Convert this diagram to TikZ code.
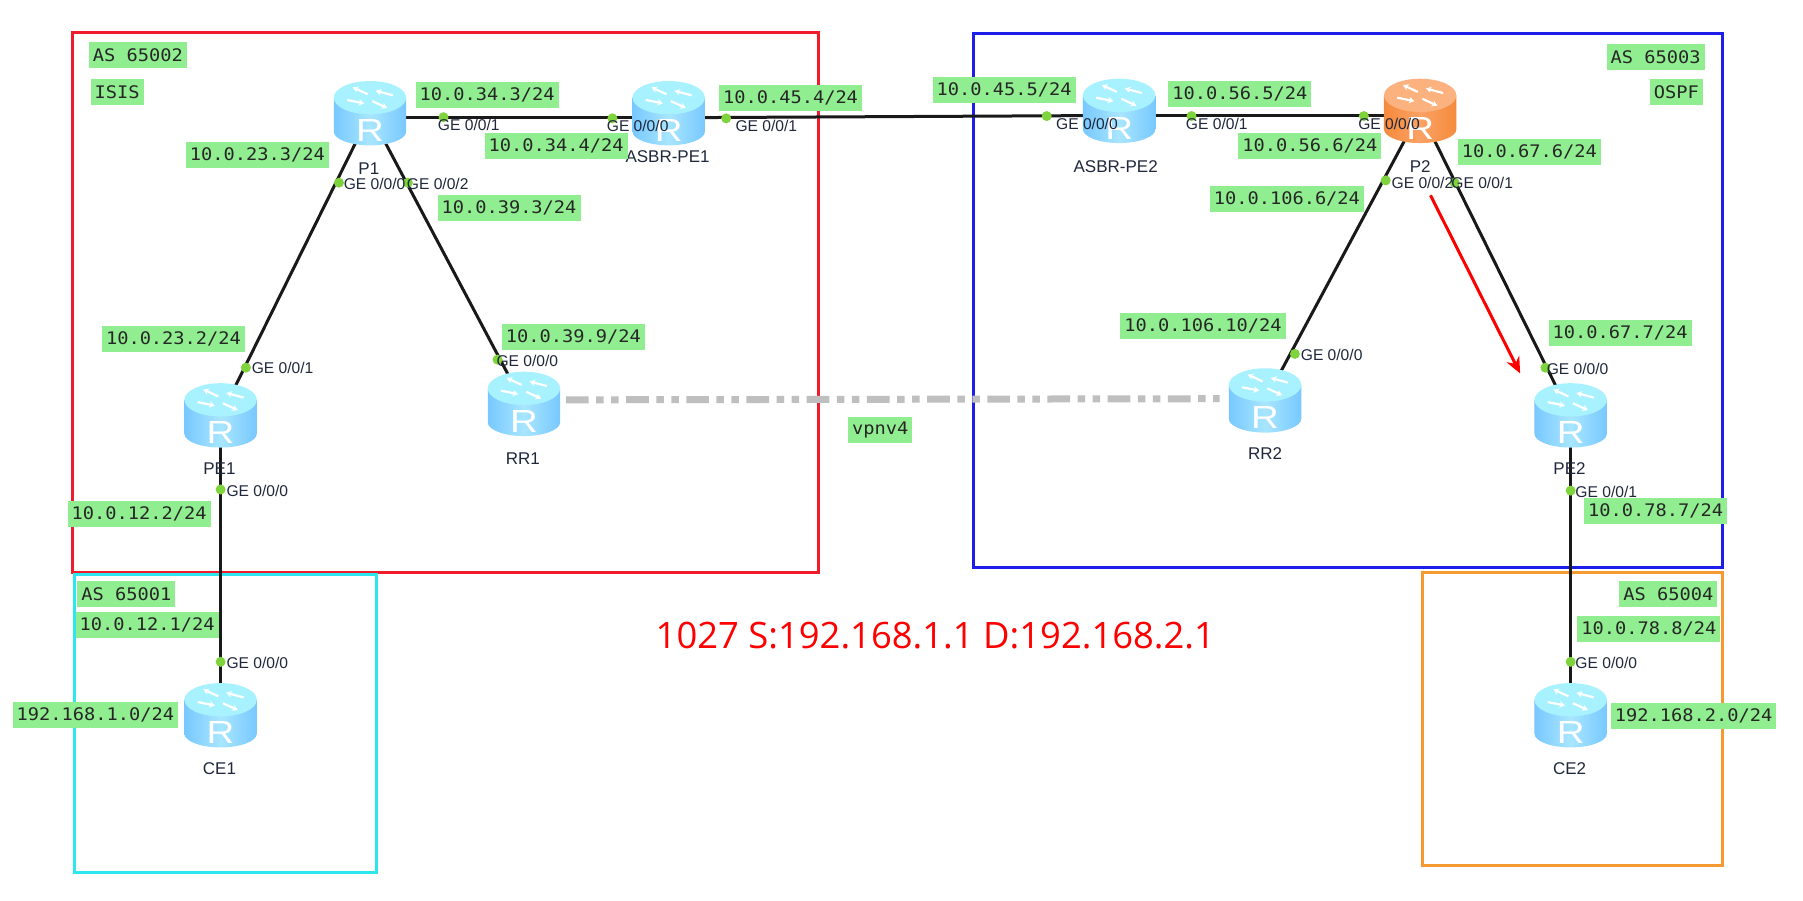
\documentclass[tikz,border=0pt]{standalone}
\usepackage{fontspec}
\setmainfont{Liberation Sans}
\newfontfamily\labmono[FakeStretch=1.08]{DejaVu Sans Mono}
\newfontfamily\redfont{Open Sans}
\usetikzlibrary{arrows.meta,calc}
\definecolor{labgreen}{HTML}{90EE90}
\definecolor{dotgreen}{HTML}{7FD33C}
\definecolor{getext}{HTML}{20283C}
\definecolor{bluetop}{HTML}{A8F2FF}
\definecolor{blueedge}{HTML}{78C8FF}
\definecolor{bluemid}{HTML}{A8E6FF}
\definecolor{ortop}{HTML}{FBB27E}
\definecolor{oredge}{HTML}{F58A3C}
\definecolor{ormid}{HTML}{FBA264}
\definecolor{areared}{HTML}{F01C2C}
\definecolor{areablue}{HTML}{1E1EEA}
\definecolor{areacyan}{HTML}{2CE8EE}
\definecolor{areaorange}{HTML}{F59A30}
\tikzset{
  areabox/.style={line width=3pt},
  routerbox/.style={minimum width=72pt,minimum height=63pt,inner sep=0pt},
  link/.style={line width=3pt,black!90},
  ipl/.style={fill=labgreen,text=black!85,font=\labmono\fontsize{17.3}{20}\selectfont,inner xsep=4pt,inner ysep=0pt,minimum height=26pt},
  gedot/.style={circle,fill=dotgreen,minimum size=10pt,inner sep=0pt},
  ge/.style={font=\fontsize{15.6}{17}\selectfont,text=getext,inner sep=0pt,anchor=west},
  rname/.style={font=\fontsize{17}{19}\selectfont,text=getext,inner sep=0pt},
  bgp/.style={line width=7pt,black!25,dash pattern=on 22.7pt off 7.5pt on 7.5pt off 7.5pt on 7.5pt off 7.5pt},
  hop/.style={line width=3pt,red,-{Stealth[length=16pt,width=14pt]}},
  glyph/.style={line width=2.2pt,white,-{Stealth[length=5.5pt,width=6.5pt]}}
}
\newcommand\drawrouter[5]{% x,y,side dark,side light,top
  \begin{scope}[shift={(#1,#2)}]
    \shade[left color=#3,right color=#3,middle color=#4]
      (-31.5,-14) -- (-31.5,15.5) arc[start angle=180,end angle=0,x radius=31.5,y radius=12] -- (31.5,-14) -- cycle;
    \fill[#5] (0,-14) ellipse[x radius=31.5,y radius=14.5];
    \draw[glyph] (-2,-17) -- (-15,-23);
    \draw[glyph] (-20,-12) -- (-5,-9);
    \draw[glyph] (2,-11) -- (15,-5);
    \draw[glyph] (20,-16) -- (5,-20);
    \node[inner sep=0pt,text=white,xscale=1.2,font=\fontsize{32}{32}\selectfont] at (0,14.6) {R};
  \end{scope}}
\begin{document}
\begin{tikzpicture}[x=1.149pt,y=-1.149pt]
\fill[white] (0,0) rectangle (1569.2,783.3);
\useasboundingbox (0,0) rectangle (1569.2,783.3);
% areas
\draw[areabox,draw=areared] (63,28) rectangle (712,498);
\draw[areabox,draw=areablue] (847,29) rectangle (1499,494);
\draw[areabox,draw=areacyan] (65,500) rectangle (328,759);
\draw[areabox,draw=areaorange] (1238,498) rectangle (1499,753);
% router anchors
\node[routerbox] (P1) at (322,99) {};
\node[routerbox] (ASBR1) at (582,99) {};
\node[routerbox] (PE1) at (192,362) {};
\node[routerbox] (RR1) at (456,352) {};
\node[routerbox] (CE1) at (192,623) {};
\node[routerbox] (ASBR2) at (974,97) {};
\node[routerbox] (P2) at (1236,97) {};
\node[routerbox] (RR2) at (1101,349) {};
\node[routerbox] (PE2) at (1367,362) {};
\node[routerbox] (CE2) at (1367,623) {};
% links
\draw[link] ([yshift=-4pt]P1.center) -- ([yshift=-4pt]ASBR1.center);
\draw[link] ([yshift=-4pt]ASBR1.center) -- ([yshift=-4pt]ASBR2.center);
\draw[link] ([yshift=-4pt]ASBR2.center) -- ([yshift=-4pt]P2.center);
\draw[link] (P1.center) -- (PE1.center);
\draw[link] (P1.center) -- (RR1.center);
\draw[link] (PE1.center) -- (CE1.center);
\draw[link] (P2.center) -- (RR2.center);
\draw[link] (P2.center) -- (PE2.center);
\draw[link] (PE2.center) -- (CE2.center);
\draw[bgp] ($(RR1.east)+(5,-4)$) -- ($(RR2.west)+(-8,-2)$);
% routers
\drawrouter{322}{99}{blueedge}{bluemid}{bluetop}
\drawrouter{582}{99}{blueedge}{bluemid}{bluetop}
\drawrouter{192}{362}{blueedge}{bluemid}{bluetop}
\drawrouter{456}{352}{blueedge}{bluemid}{bluetop}
\drawrouter{192}{623}{blueedge}{bluemid}{bluetop}
\drawrouter{974}{97}{blueedge}{bluemid}{bluetop}
\drawrouter{1236}{97}{oredge}{ormid}{ortop}
\drawrouter{1101}{349}{blueedge}{bluemid}{bluetop}
\drawrouter{1367}{362}{blueedge}{bluemid}{bluetop}
\drawrouter{1367}{623}{blueedge}{bluemid}{bluetop}
% router names
\node[rname] (nP1) at (321,147) {P1};
\node[rname] (nA1) at (581,136) {ASBR-PE1};
\node[rname] (nPE1) at (191,408) {PE1};
\node[rname] (nRR1) at (455,399) {RR1};
\node[rname] (nCE1) at (191,669) {CE1};
\node[rname] (nA2) at (971,145) {ASBR-PE2};
\node[rname] (nP2) at (1236,145) {P2};
\node[rname] (nRR2) at (1101,395) {RR2};
\node[rname] (nPE2) at (1366,408) {PE2};
\node[rname] (nCE2) at (1366,669) {CE2};
% interface dots
\foreach \n/\x/\y in {d1/386/102,d2/533/103,d3/632/103,d4/911/101,d5/1037/101,d6/1187/101,d7/295/159,d18/355/159,d8/214/320,d9/433/313,d10/192/426,d11/192/576,d12/1206/157,d17/1266/159,d13/1127/308,d14/1345/320,d15/1367/427,d16/1367/576}
  \node[gedot] (\n) at (\x,\y) {};
% interface names
\node[ge] at (381,109) {GE 0/0/1};
\node[ge] at (528,110) {GE 0/0/0};
\node[ge] at (640,110) {GE 0/0/1};
\node[ge] at (919,108) {GE 0/0/0};
\node[ge] at (1032,108) {GE 0/0/1};
\node[ge] at (1182,108) {GE 0/0/0};
\node[ge] at (299,160) {GE 0/0/0};
\node[ge] at (354,160) {GE 0/0/2};
\node[ge] at (219,320) {GE 0/0/1};
\node[ge] at (432,314) {GE 0/0/0};
\node[ge] at (197,427) {GE 0/0/0};
\node[ge] at (197,577) {GE 0/0/0};
\node[ge] at (1211,159) {GE 0/0/2};
\node[ge] at (1263,159) {GE 0/0/1};
\node[ge] at (1132,309) {GE 0/0/0};
\node[ge] at (1346,321) {GE 0/0/0};
\node[ge] at (1371,428) {GE 0/0/1};
\node[ge] at (1371,577) {GE 0/0/0};
% address labels
\node[ipl] (l1) at (424,83) {10.0.34.3/24};
\node[ipl] (l2) at (484,127) {10.0.34.4/24};
\node[ipl] (l3) at (688,85) {10.0.45.4/24};
\node[ipl] (l4) at (874,78) {10.0.45.5/24};
\node[ipl] (l5) at (1079,82) {10.0.56.5/24};
\node[ipl] (l6) at (1140,127) {10.0.56.6/24};
\node[ipl] (l7) at (1331,132) {10.0.67.6/24};
\node[ipl] (l8) at (224,135) {10.0.23.3/24};
\node[ipl] (l9) at (443,181) {10.0.39.3/24};
\node[ipl] (l10) at (151,295) {10.0.23.2/24};
\node[ipl] (l11) at (499,293) {10.0.39.9/24};
\node[ipl] (l12) at (121,447) {10.0.12.2/24};
\node[ipl] (l13) at (128,544) {10.0.12.1/24};
\node[ipl] (l14) at (83,622) {192.168.1.0/24};
\node[ipl] (l15) at (1120,173) {10.0.106.6/24};
\node[ipl] (l16) at (1047,284) {10.0.106.10/24};
\node[ipl] (l17) at (1410,290) {10.0.67.7/24};
\node[ipl] (l18) at (1441,445) {10.0.78.7/24};
\node[ipl] (l19) at (1435,547) {10.0.78.8/24};
\node[ipl] (l20) at (1474,623) {192.168.2.0/24};
\node[ipl] (a1) at (120,48) {AS 65002};
\node[ipl] (a2) at (102,80) {ISIS};
\node[ipl] (a3) at (1441,50) {AS 65003};
\node[ipl] (a4) at (1459,80) {OSPF};
\node[ipl] (a5) at (110,517) {AS 65001};
\node[ipl] (a6) at (1452,517) {AS 65004};
\node[ipl] (v) at (766,374) {vpnv4};
% traffic note
\coordinate (hopa) at (1245,170);
\coordinate (hopb) at (1323,325);
\draw[hop] (hopa) -- (hopb);
\node[text=red,font=\redfont\fontsize{36.4}{40}\selectfont,inner sep=0pt] (note) at (814,553) {1027 S:192.168.1.1 D:192.168.2.1};
\end{tikzpicture}
\end{document}
